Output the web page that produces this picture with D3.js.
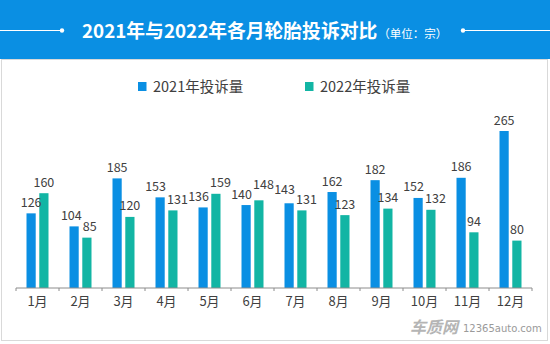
<!DOCTYPE html>
<html>
<head>
<meta charset="utf-8">
<script src="https://cdn.jsdelivr.net/npm/d3@7"></script>
<style>
  body { margin: 0; background: #fff; }
  svg { display: block; }
</style>
</head>
<body>
<div id="chart"></div>
<script>
// data
var months = ['1月','2月','3月','4月','5月','6月','7月','8月','9月','10月','11月','12月'];
var seriesNames = ['2021年投诉量', '2022年投诉量'];
var values2021 = [126, 104, 185, 153, 136, 140, 143, 162, 182, 152, 186, 265];
var values2022 = [160, 85, 120, 131, 159, 148, 131, 123, 134, 132, 94, 80];
var colors = ['#0a8fe3', '#12b5a4'];

var W = 550, H = 344;
var font = '"Noto Sans CJK SC", "Noto Sans", sans-serif';

var svg = d3.select('#chart').append('svg')
  .attr('width', W).attr('height', H)
  .style('font-family', font);

// header
svg.append('rect').attr('x', 0).attr('y', 0).attr('width', W).attr('height', 59).attr('fill', '#0a8fe3');
svg.append('line').attr('x1', 0).attr('x2', 62).attr('y1', 30.5).attr('y2', 30.5).attr('stroke', '#fff').attr('stroke-width', 1);
svg.append('circle').attr('cx', 62).attr('cy', 30.5).attr('r', 2.2).attr('fill', '#fff');
svg.append('line').attr('x1', 463).attr('x2', W).attr('y1', 30.5).attr('y2', 30.5).attr('stroke', '#fff').attr('stroke-width', 1);
svg.append('circle').attr('cx', 463).attr('cy', 30.5).attr('r', 2.2).attr('fill', '#fff');

var title = svg.append('text').attr('x', 82).attr('y', 37.5).attr('fill', '#fff');
title.append('tspan').text('2021年与2022年各月轮胎投诉对比')
  .attr('font-size', 18.8).attr('font-weight', 'bold');
title.append('tspan').text('（单位：宗）').attr('font-size', 11.5).attr('dx', 1);

// panel
svg.append('rect').attr('x', 1.5).attr('y', 59.5).attr('width', 546).attr('height', 281)
  .attr('fill', '#fff').attr('stroke', '#d9d9d9');

// legend
var legX = [138, 305];
seriesNames.forEach(function(name, i) {
  svg.append('rect').attr('x', legX[i]).attr('y', 82).attr('width', 8.5).attr('height', 9).attr('fill', colors[i]);
  svg.append('text').attr('x', legX[i] + 15).attr('y', 91.5)
    .attr('font-size', 14.5).attr('fill', '#404040').text(name);
});

// scales
var x = d3.scaleBand().domain(months).range([16, 532]).padding(0);
var inner = d3.scaleBand().domain([0, 1])
  .range([x.bandwidth() / 2 - 11, x.bandwidth() / 2 + 11]).paddingInner(0.28);
var y = d3.scaleLinear().domain([0, 265]).range([288, 131]);

var data = months.map(function(m, i) {
  return { month: m, vals: [values2021[i], values2022[i]] };
});

var groups = svg.selectAll('g.month').data(data).enter().append('g')
  .attr('class', 'month')
  .attr('transform', function(d) { return 'translate(' + x(d.month) + ',0)'; });

groups.selectAll('rect').data(function(d) { return d.vals; }).enter().append('rect')
  .attr('x', function(d, i) { return inner(i); })
  .attr('width', inner.bandwidth())
  .attr('y', function(d) { return y(d); })
  .attr('height', function(d) { return y(0) - y(d); })
  .attr('fill', function(d, i) { return colors[i]; });

// value labels: above the bar, nudged apart when the pair would collide
groups.each(function(d) {
  var g = d3.select(this);
  var labels = g.selectAll('text.val').data(d.vals).enter().append('text')
    .attr('class', 'val')
    .attr('text-anchor', 'middle')
    .attr('font-size', 12.5)
    .attr('fill', '#404040')
    .text(function(v) { return v; });

  var ys = d.vals.map(function(v) { return y(v) - 6.5; });
  var cx = [0, 1].map(function(i) { return inner(i) + inner.bandwidth() / 2; });
  var w = labels.nodes().map(function(n) { return n.getComputedTextLength(); });

  if (Math.abs(ys[0] - ys[1]) < 10) {
    if (ys[0] < ys[1]) ys[0] = ys[1] - 10;
    else ys[1] = ys[0] - 10;
  }
  if (Math.abs(ys[0] - ys[1]) < 17) {
    var need = (w[0] + w[1]) / 2 + 1 - (cx[1] - cx[0]);
    if (need > 0) {
      cx[0] -= need / 2;
      cx[1] += need / 2;
    }
  }
  labels.attr('x', function(v, i) { return cx[i]; })
    .attr('y', function(v, i) { return ys[i]; });
});

// x axis
var axis = svg.append('g').attr('transform', 'translate(0,288)');
axis.append('line').attr('x1', 16).attr('x2', 532).attr('stroke', '#8c8c8c').attr('stroke-width', 1);
axis.selectAll('line.tick').data(months.concat(['end'])).enter().append('line')
  .attr('class', 'tick')
  .attr('x1', function(d, i) { return 16 + i * x.step(); })
  .attr('x2', function(d, i) { return 16 + i * x.step(); })
  .attr('y1', 0).attr('y2', 3)
  .attr('stroke', '#8c8c8c');
axis.selectAll('text').data(months).enter().append('text')
  .attr('x', function(d) { return x(d) + x.bandwidth() / 2; })
  .attr('y', 18)
  .attr('text-anchor', 'middle')
  .attr('font-size', 13)
  .attr('fill', '#404040')
  .text(function(d) { return d; });

// watermark
svg.append('text').attr('x', 410).attr('y', 333)
  .attr('font-size', 16).attr('font-weight', 'bold').attr('font-style', 'italic')
  .attr('fill', '#b5b5b5').text('车质网');
svg.append('text').attr('x', 463).attr('y', 332)
  .attr('font-size', 10).attr('fill', '#9a9a9a')
  .style('font-family', '"DejaVu Sans", sans-serif').text('12365auto.com');
</script>
</body>
</html>
